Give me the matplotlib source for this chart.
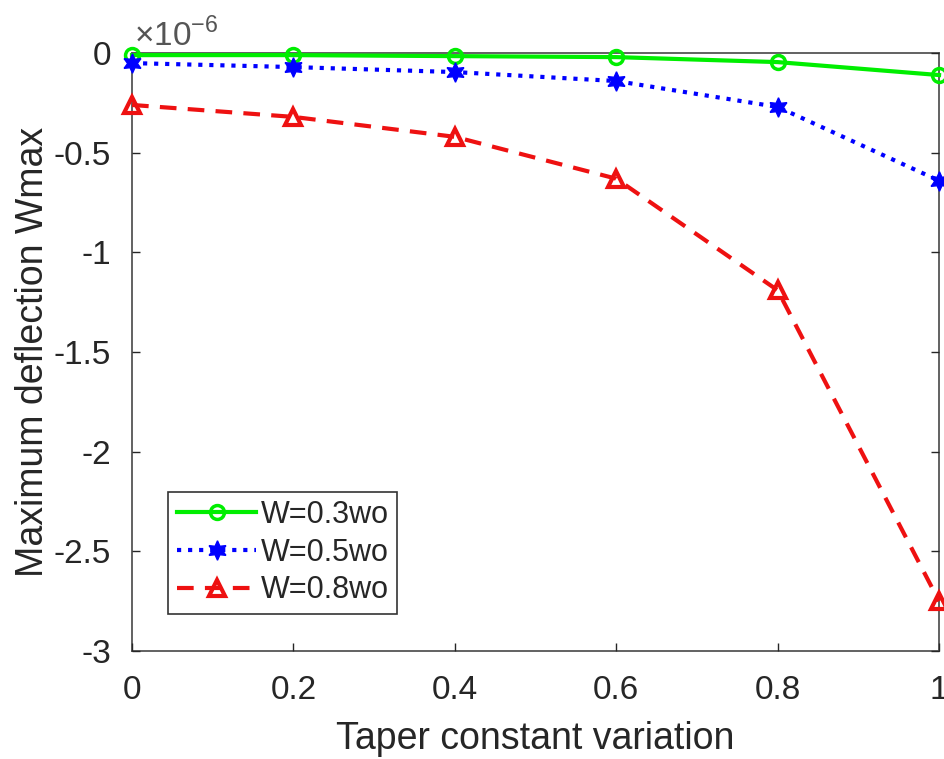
import matplotlib
matplotlib.use('Agg')
import matplotlib.pyplot as plt
import numpy as np

# %%  Data (values in units of 1e-6)

taper = [0, 0.2, 0.4, 0.6, 0.8, 1.0]

w_03 = [-0.01, -0.01, -0.015, -0.02, -0.045, -0.11]
w_05 = [-0.05, -0.07, -0.095, -0.14, -0.27, -0.64]
w_08 = [-0.26, -0.32, -0.42, -0.63, -1.19, -2.75]

labels = ['W=0.3wo', 'W=0.5wo', 'W=0.8wo']

yticks = [0, -0.5, -1, -1.5, -2, -2.5, -3]
ytick_labels = ['0', '-0.5', '-1', '-1.5', '-2', '-2.5', '-3']
xticks = [0, 0.2, 0.4, 0.6, 0.8, 1]
xtick_labels = ['0', '0.2', '0.4', '0.6', '0.8', '1']


# %%  Plot

plt.rcParams['font.family'] = ['Liberation Sans', 'DejaVu Sans']
plt.rcParams['mathtext.fontset'] = 'custom'
plt.rcParams['mathtext.rm'] = 'Liberation Sans'
txt_col = '#262626'

fig = plt.figure(figsize=(9.45, 7.59), dpi=100)
ax = fig.add_axes([0.1397, 0.1423, 0.854, 0.7877])

hexagram = (6, 1, 0)   # six-point star, like MATLAB 'h'

ax.plot(taper, w_03, '-o', color='#00ee00', lw=3, ms=10, mew=2.5,
        mfc='none', label=labels[0])
ax.plot(taper, w_05, ':', marker=hexagram, color='#0000ff', lw=3, ms=14,
        mew=1, mfc='#0000ff', label=labels[1])
ax.plot(taper, w_08, '--^', color='#ee1111', lw=3, ms=11, mew=3,
        mfc='none', label=labels[2], dashes=(4, 2.7))

ax.set_xlim(0, 1)
ax.set_ylim(-3, 0)
ax.set_xticks(xticks)
ax.set_xticklabels(xtick_labels)
ax.set_yticks(yticks)
ax.set_yticklabels(ytick_labels)

ax.tick_params(direction='in', length=6, width=1, colors=txt_col,
               labelsize=24, top=False, right=True)
ax.tick_params(axis='x', pad=17)
ax.tick_params(axis='y', pad=15)
for s in ax.spines.values():
    s.set_color('#555555')
    s.set_linewidth(1.3)
    s.set_zorder(0)

ax.set_xlabel('Taper constant variation', fontsize=27, color=txt_col, labelpad=11)
ax.set_ylabel('Maximum deflection Wmax', fontsize=27, color=txt_col, labelpad=2)

ax.text(0.003, 1.0, r'$\times$10$^{-6}$', transform=ax.transAxes,
        fontsize=24, color='#555555', ha='left', va='bottom')

leg = ax.legend(loc='lower left', bbox_to_anchor=(0.045, 0.062), fontsize=22,
                frameon=True, fancybox=False, edgecolor='#333333',
                handlelength=2.6, handletextpad=0.15, borderpad=0.28,
                labelspacing=0.25, borderaxespad=0, framealpha=1)
leg.get_frame().set_linewidth(1.2)
for t in leg.get_texts():
    t.set_color(txt_col)

for ln in ax.lines:
    ln.set_clip_on(False)

fig.savefig('out.png', dpi=100, facecolor='white')
